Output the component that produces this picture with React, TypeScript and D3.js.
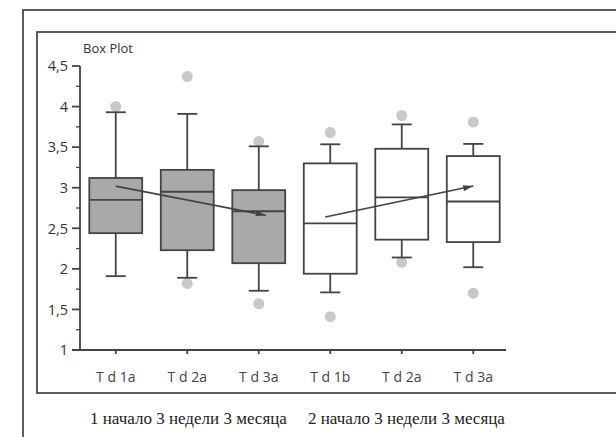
import React, { useEffect, useRef } from "react";
import * as d3 from "d3";

// categories (index keys keep the duplicated labels apart)
const labels = ["T d 1a", "T d 2a", "T d 3a", "T d 1b", "T d 2a", "T d 3a"];
const filled = [true, true, true, false, false, false];

// box statistics
const whiskerLow = [1.91, 1.89, 1.73, 1.71, 2.14, 2.02];
const q1 = [2.44, 2.23, 2.07, 1.94, 2.36, 2.33];
const median = [2.85, 2.95, 2.71, 2.56, 2.88, 2.83];
const q3 = [3.12, 3.22, 2.97, 3.3, 3.48, 3.39];
const whiskerHigh = [3.93, 3.91, 3.51, 3.535, 3.78, 3.54];
const outliersHigh = [4.0, 4.37, 3.57, 3.68, 3.89, 3.81];
const outliersLow = [null, 1.82, 1.57, 1.41, 2.08, 1.7];

// trend arrows
const arrowFrom = [
  { cat: 0, value: 3.02, shift: 0 },
  { cat: 3, value: 2.64, shift: -5 },
];
const arrowTo = [
  { cat: 2, value: 2.66, shift: 7 },
  { cat: 5, value: 3.02, shift: 0 },
];

const yTicks = [1, 1.5, 2, 2.5, 3, 3.5, 4, 4.5];
const captions = ["1 начало 3 недели 3 месяца", "2 начало 3 недели 3 месяца"];

const App = () => {
  const svgRef = useRef<SVGSVGElement>(null);

  useEffect(() => {
    const width = 616;
    const height = 437;
    const svg = d3.select(svgRef.current);
    svg.selectAll("*").remove();
    svg.attr("width", width).attr("height", height);

    const ink = "#444";
    const sw = 1.8;
    const sans = "'Open Sans', 'Noto Sans', sans-serif";

    // frames
    svg.append("rect").attr("x", 23).attr("y", 10).attr("width", 700).attr("height", 500)
      .attr("fill", "none").attr("stroke", "#333").attr("stroke-width", 1.6);
    svg.append("rect").attr("x", 37).attr("y", 32).attr("width", 700).attr("height", 361)
      .attr("fill", "none").attr("stroke", "#333").attr("stroke-width", 1.6);

    const x = d3.scaleBand<number>().domain(labels.map((_, i) => i)).range([80, 509]);
    const y = d3.scaleLinear().domain([1, 4.5]).range([350, 66]);
    const cx = (i: number) => (x(i) as number) + x.bandwidth() / 2;
    const half = x.bandwidth() * 0.37;
    const cap = 10;

    // y axis
    const yAxis = svg.append("g").attr("transform", "translate(80,0)");
    yAxis.append("line").attr("y1", y(4.5)).attr("y2", y(1)).attr("stroke", ink).attr("stroke-width", sw);
    const minor = d3.range(1.25, 4.5, 0.5);
    yAxis.selectAll(".minor").data(minor).enter().append("line")
      .attr("x1", -4).attr("x2", 0).attr("y1", (d) => y(d)).attr("y2", (d) => y(d))
      .attr("stroke", ink).attr("stroke-width", 1.3);
    yAxis.selectAll(".major").data(yTicks).enter().append("line")
      .attr("x1", -8).attr("x2", 0).attr("y1", (d) => y(d)).attr("y2", (d) => y(d))
      .attr("stroke", ink).attr("stroke-width", sw);
    yAxis.selectAll("text").data(yTicks).enter().append("text")
      .attr("x", -12).attr("y", (d) => y(d)).attr("dy", "0.36em")
      .attr("text-anchor", "end").attr("font-family", sans).attr("font-size", 14.5)
      .attr("fill", "#333")
      .text((d) => String(d).replace(".", ","));

    // x axis
    svg.append("line").attr("x1", 72).attr("x2", 506).attr("y1", y(1)).attr("y2", y(1))
      .attr("stroke", ink).attr("stroke-width", 2);
    svg.selectAll(".xtick").data(labels).enter().append("line")
      .attr("x1", (_, i) => cx(i)).attr("x2", (_, i) => cx(i))
      .attr("y1", y(1)).attr("y2", y(1) + 4).attr("stroke", ink).attr("stroke-width", sw);
    svg.selectAll(".xlabel").data(labels).enter().append("text")
      .attr("x", (_, i) => cx(i)).attr("y", 382)
      .attr("text-anchor", "middle").attr("font-family", sans).attr("font-size", 14)
      .attr("fill", "#444").text((d) => d);

    // title
    svg.append("text").attr("x", 83).attr("y", 53).attr("font-family", sans)
      .attr("font-size", 13).attr("fill", "#333").text("Box Plot");

    // outliers
    const dots = labels.flatMap((_, i) => [
      { i, v: outliersHigh[i] },
      { i, v: outliersLow[i] },
    ]).filter((d) => d.v !== null) as { i: number; v: number }[];
    svg.selectAll(".outlier").data(dots).enter().append("circle")
      .attr("cx", (d) => cx(d.i)).attr("cy", (d) => y(d.v)).attr("r", 5.5)
      .attr("fill", "#c9c9c9");

    // boxes
    const g = svg.selectAll(".box").data(labels).enter().append("g");
    g.append("line").attr("x1", (_, i) => cx(i)).attr("x2", (_, i) => cx(i))
      .attr("y1", (_, i) => y(whiskerLow[i])).attr("y2", (_, i) => y(q1[i]))
      .attr("stroke", ink).attr("stroke-width", sw);
    g.append("line").attr("x1", (_, i) => cx(i)).attr("x2", (_, i) => cx(i))
      .attr("y1", (_, i) => y(q3[i])).attr("y2", (_, i) => y(whiskerHigh[i]))
      .attr("stroke", ink).attr("stroke-width", sw);
    g.append("line").attr("x1", (_, i) => cx(i) - cap).attr("x2", (_, i) => cx(i) + cap)
      .attr("y1", (_, i) => y(whiskerLow[i])).attr("y2", (_, i) => y(whiskerLow[i]))
      .attr("stroke", ink).attr("stroke-width", sw);
    g.append("line").attr("x1", (_, i) => cx(i) - cap).attr("x2", (_, i) => cx(i) + cap)
      .attr("y1", (_, i) => y(whiskerHigh[i])).attr("y2", (_, i) => y(whiskerHigh[i]))
      .attr("stroke", ink).attr("stroke-width", sw);
    g.append("rect").attr("x", (_, i) => cx(i) - half).attr("width", half * 2)
      .attr("y", (_, i) => y(q3[i])).attr("height", (_, i) => y(q1[i]) - y(q3[i]))
      .attr("fill", (_, i) => (filled[i] ? "#a9a9a9" : "#fff"))
      .attr("stroke", ink).attr("stroke-width", sw);
    g.append("line").attr("x1", (_, i) => cx(i) - half).attr("x2", (_, i) => cx(i) + half)
      .attr("y1", (_, i) => y(median[i])).attr("y2", (_, i) => y(median[i]))
      .attr("stroke", ink).attr("stroke-width", sw);

    // arrows
    const defs = svg.append("defs");
    defs.append("marker").attr("id", "arrowhead").attr("viewBox", "0 0 10 6")
      .attr("refX", 10).attr("refY", 3).attr("markerWidth", 11).attr("markerHeight", 6)
      .attr("markerUnits", "userSpaceOnUse").attr("orient", "auto")
      .append("path").attr("d", "M0,0 L10,3 L0,6 Z").attr("fill", ink);
    svg.selectAll(".arrow").data(arrowFrom).enter().append("line")
      .attr("x1", (d) => cx(d.cat) + d.shift).attr("y1", (d) => y(d.value))
      .attr("x2", (_, k) => cx(arrowTo[k].cat) + arrowTo[k].shift)
      .attr("y2", (_, k) => y(arrowTo[k].value))
      .attr("stroke", ink).attr("stroke-width", 1.6).attr("marker-end", "url(#arrowhead)");

    // caption under the frame
    svg.selectAll(".caption").data(captions).enter().append("text")
      .attr("x", (_, k) => [90, 308][k]).attr("y", 424)
      .attr("font-family", "'Liberation Serif', 'DejaVu Serif', serif")
      .attr("font-size", 17).attr("fill", "#222").text((d) => d);
  }, []);

  return <svg ref={svgRef} style={{ position: "absolute", left: 0, top: 0 }}></svg>;
};

export default App;
